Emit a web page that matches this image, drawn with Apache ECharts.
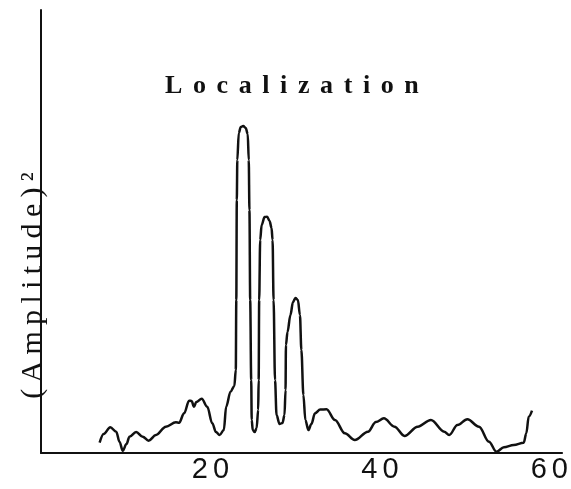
<!DOCTYPE html>
<html>
<head>
<meta charset="utf-8">
<script src="https://cdn.jsdelivr.net/npm/echarts@6/dist/echarts.min.js"></script>
<style>
html,body{margin:0;padding:0;background:#fff;}
#chart{width:571px;height:489px;}
</style>
</head>
<body>
<div id="chart"></div>
<script>
// ---- data ----
const titleText = "Localization";
const yAxisName = "(Amplitude)\u00B2";
const xTickLabels = [20, 40, 60];
const xValues = [6.92,7.39,8.18,8.88,9.27,9.65,10.09,10.44,11.23,12.00,12.70,13.57,14.74,15.92,16.30,16.89,17.48,17.77,18.06,18.33,18.97,19.62,20.21,20.65,21.08,21.58,21.85,22.37,22.82,22.99,23.05,23.11,23.17,23.34,23.58,23.87,24.16,24.40,24.52,24.60,24.69,24.81,24.87,24.99,25.22,25.45,25.63,25.69,25.75,25.87,26.04,26.39,26.69,26.98,27.21,27.33,27.45,27.62,27.80,28.15,28.50,28.74,28.86,28.91,29.09,29.44,29.74,30.03,30.32,30.56,30.73,30.97,31.20,31.56,31.91,32.34,32.96,33.70,34.69,35.86,37.03,38.59,39.53,40.47,41.72,42.90,44.46,46.02,47.59,48.18,49.15,50.32,51.70,52.87,53.76,54.63,55.80,56.97,57.28,57.56,57.95];
const amplitude = [2.33,4.29,5.80,4.81,2.48,0.52,2.03,3.68,4.74,3.68,2.78,4.06,5.94,6.93,6.84,8.96,11.81,11.74,10.45,11.51,12.26,10.45,6.70,4.74,4.06,5.19,10.45,13.84,15.12,18.74,34.54,57.11,66.14,72.23,73.59,73.81,73.36,72.01,66.14,54.85,34.54,16.48,7.45,5.19,4.74,5.64,9.71,16.48,34.54,48.08,51.47,53.27,53.34,52.37,50.79,48.08,34.54,16.48,8.58,6.55,6.77,8.58,14.22,24.38,27.31,31.15,34.09,34.99,34.54,31.15,23.25,13.09,7.45,5.19,6.55,8.96,9.82,9.86,7.45,4.45,2.93,4.81,7.00,7.83,5.94,3.84,5.94,7.45,4.81,4.06,6.32,7.61,5.94,2.55,0.29,1.29,1.81,2.33,4.45,8.19,9.55];

// wide letter spacing as in the typewritten reference (keyed by font size)
(function(){
  const P = CanvasRenderingContext2D.prototype;
  const ft = P.fillText, st = P.strokeText, mt = P.measureText;
  const spacing = {26: 10.6, 30: 6.3, 29: 5};
  function sp(ctx){
    const m = /(\d+(?:\.\d+)?)px/.exec(ctx.font || '');
    const s = m ? Math.round(parseFloat(m[1])) : 12;
    const v = spacing[s] || 0;
    ctx.letterSpacing = v + 'px';
    return v;
  }
  function shift(ctx, v){
    const a = ctx.textAlign;
    if (a === 'center') return v / 2;
    if (a === 'right' || a === 'end') return v;
    return 0;
  }
  P.fillText = function(t,x,y,w){ const v = sp(this); x += shift(this, v); return w===undefined ? ft.call(this,t,x,y) : ft.call(this,t,x,y,w); };
  P.strokeText = function(t,x,y,w){ const v = sp(this); x += shift(this, v); return w===undefined ? st.call(this,t,x,y) : st.call(this,t,x,y,w); };
  P.measureText = function(t){
    const v = sp(this);
    const m = mt.call(this,t);
    return {
      width: Math.max(0, m.width - (t && t.length ? v : 0)),
      actualBoundingBoxAscent: m.actualBoundingBoxAscent,
      actualBoundingBoxDescent: m.actualBoundingBoxDescent,
      actualBoundingBoxLeft: m.actualBoundingBoxLeft,
      actualBoundingBoxRight: m.actualBoundingBoxRight,
      fontBoundingBoxAscent: m.fontBoundingBoxAscent,
      fontBoundingBoxDescent: m.fontBoundingBoxDescent
    };
  };
})();

const seriesData = xValues.map((x, i) => [x, amplitude[i]]);

const chart = echarts.init(document.getElementById('chart'), null, {renderer: 'canvas'});
chart.setOption({
  backgroundColor: '#fff',
  animation: false,
  title: {
    text: titleText,
    left: 160,
    top: 68,
    textStyle: {fontFamily: 'Liberation Serif', fontWeight: 'bold', fontSize: 26, color: '#111'}
  },
  grid: {left: 41, right: 6, top: 10, bottom: 36},
  xAxis: {
    type: 'value',
    min: 0,
    max: 61.5,
    interval: 20,
    axisLine: {lineStyle: {color: '#111', width: 2}},
    axisTick: {show: false},
    splitLine: {show: false},
    axisLabel: {
      margin: 2,
      fontFamily: '"Liberation Sans Narrow", "Liberation Sans", sans-serif',
      fontSize: 29,
      color: '#111',
      formatter: v => xTickLabels.indexOf(v) >= 0 ? String(v) : ''
    }
  },
  yAxis: {
    type: 'value',
    min: 0,
    max: 100,
    name: yAxisName,
    nameLocation: 'middle',
    nameRotate: 90,
    nameGap: -7,
    nameTextStyle: {fontFamily: 'Liberation Serif', fontSize: 30, color: '#111', padding: [0, 108, 0, 0]},
    axisLine: {show: true, lineStyle: {color: '#111', width: 2}},
    axisTick: {show: false},
    axisLabel: {show: false},
    splitLine: {show: false}
  },
  series: [{
    type: 'line',
    data: seriesData,
    showSymbol: false,
    smooth: 0.35,
    smoothMonotone: 'x',
    lineStyle: {color: '#111', width: 2.5}
  }]
});
</script>
</body>
</html>
